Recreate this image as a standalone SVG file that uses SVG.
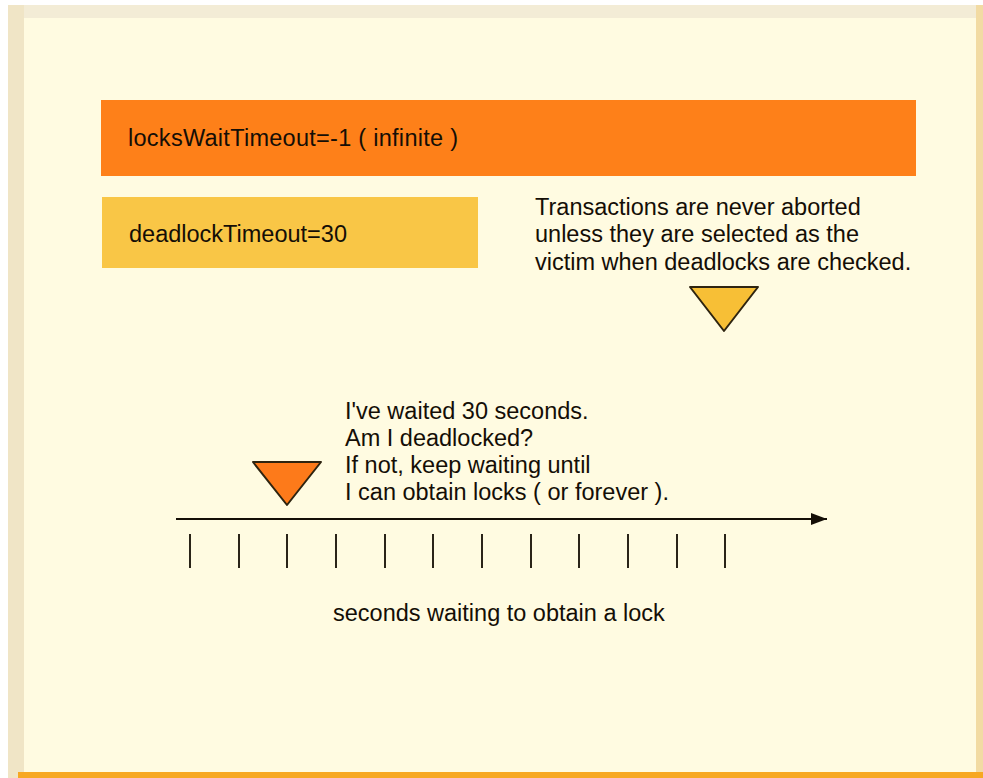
<svg xmlns="http://www.w3.org/2000/svg" width="983" height="778" viewBox="0 0 983 778">
<style>
.t{font-family:"Liberation Sans",Arial,sans-serif;font-size:23.5px;fill:#140e06}
.tick{stroke:#2a2418;stroke-width:2}
</style>
<defs>
<marker id="arr" viewBox="0 0 16 12" refX="16" refY="6" markerWidth="16" markerHeight="12" markerUnits="userSpaceOnUse" orient="auto">
<path d="M0,0 L16,6 L0,12 z" fill="#140e06"/>
</marker>
</defs>
<rect width="983" height="778" fill="#ffffff"/>
<g id="frame">
<rect x="8" y="5" width="975" height="773" fill="#fffbe1"/>
<rect x="8" y="5" width="975" height="13" fill="#f3ecd6"/>
<rect x="8" y="5" width="16" height="773" fill="#f0e5c6"/>
<rect x="976" y="5" width="7" height="773" fill="#f2dba3"/>
<rect x="18" y="772" width="965" height="6" fill="#f7a823"/>
</g>
<g id="locksWaitTimeout">
<rect x="101" y="100" width="815" height="76" fill="#fe8019"/>
<text class="t" x="128" y="146" textLength="330">locksWaitTimeout=-1 ( infinite )</text>
</g>
<g id="deadlockTimeout">
<rect x="102" y="197" width="376" height="71" fill="#f9c646"/>
<text class="t" x="129" y="242">deadlockTimeout=30</text>
</g>
<g id="note-victim">
<text class="t" x="535" y="215">Transactions are never aborted</text>
<text class="t" x="535" y="242">unless they are selected as the</text>
<text class="t" x="535" y="270">victim when deadlocks are checked.</text>
<polygon points="690,287 758,287 724,331" fill="#f7bf36" stroke="#2e2410" stroke-width="2" stroke-linejoin="round"/>
</g>
<g id="note-waited">
<text class="t" x="345" y="419">I've waited 30 seconds.</text>
<text class="t" x="345" y="446">Am I deadlocked?</text>
<text class="t" x="345" y="473">If not, keep waiting until</text>
<text class="t" x="345" y="500">I can obtain locks ( or forever ).</text>
<polygon points="253,462 321,462 287,505" fill="#fd7a1a" stroke="#2e2410" stroke-width="2" stroke-linejoin="round"/>
</g>
<g id="connectors">
<line x1="176" y1="519" x2="827" y2="519" stroke="#140e06" stroke-width="2" marker-end="url(#arr)"/>
<g class="tick">
<line x1="190" y1="534" x2="190" y2="568"/>
<line x1="239" y1="534" x2="239" y2="568"/>
<line x1="287" y1="534" x2="287" y2="568"/>
<line x1="336" y1="534" x2="336" y2="568"/>
<line x1="385" y1="534" x2="385" y2="568"/>
<line x1="433" y1="534" x2="433" y2="568"/>
<line x1="482" y1="534" x2="482" y2="568"/>
<line x1="531" y1="534" x2="531" y2="568"/>
<line x1="579" y1="534" x2="579" y2="568"/>
<line x1="628" y1="534" x2="628" y2="568"/>
<line x1="677" y1="534" x2="677" y2="568"/>
<line x1="725" y1="534" x2="725" y2="568"/>
</g>
</g>
<g id="axis-label">
<text class="t" x="333" y="621">seconds waiting to obtain a lock</text>
</g>
</svg>
